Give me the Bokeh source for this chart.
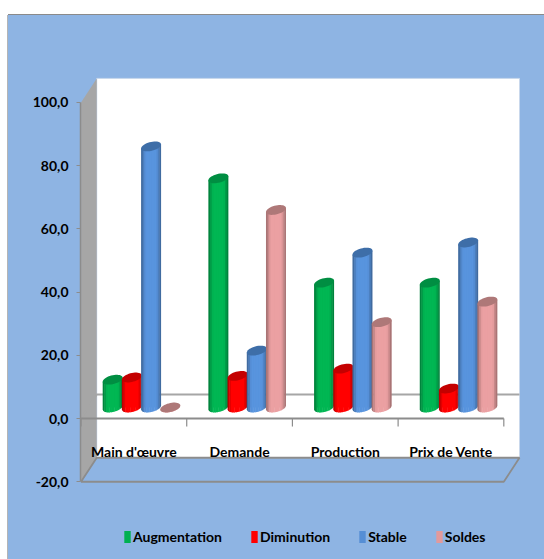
from math import pi, sin, sqrt, cos
from bokeh.plotting import figure
from bokeh.models import FixedTicker, Legend, LegendItem, Range1d
from bokeh.core.properties import value
from bokeh.embed import file_html
from bokeh.resources import INLINE

categories = ["Main d'œuvre", "Demande", "Production", "Prix de Vente"]
augmentation = [8.8, 72.5, 39.5, 39.5]
diminution = [9.5, 10.0, 12.3, 6.0]
stable = [82.6, 18.0, 49.0, 52.2]
soldes = [0.0, 62.5, 27.0, 33.5]
series_names = ["Augmentation", "Diminution", "Stable", "Soldes"]
y_ticks = [-20, 0, 20, 40, 60, 80, 100]
y_tick_labels = ["-20,0", "0,0", "20,0", "40,0", "60,0", "80,0", "100,0"]

series_values = [augmentation, diminution, stable, soldes]
series_rgb = [(0, 176, 80), (255, 0, 0), (85, 142, 213), (226, 154, 156)]
cap_rgb = [(0, 142, 66), (196, 0, 0), (62, 110, 168), (174, 120, 120)]

FONT = "Lato"
FONT_PX = "14px"
BG = "#8EB4E3"
GREY = "#8C8C8C"
PX_X = 105.7   # pixels per category
PX_Y = 3.16    # pixels per value unit
DX, DY = 15.7 / PX_X, 24 / PX_Y  # depth of the 3D box
BASE = 11 / PX_Y                 # bars stand mid-depth
GROUP_C = 0.572
PITCH = 19.2 / PX_X
A, B, TILT = 10.0, 4.5, 0.2      # cylinder ellipse, pixels

p = figure(width=536, height=544, margin=(15, 0, 0, 8), output_backend="svg", toolbar_location=None,
           x_range=Range1d(-0.005, 4.385), y_range=Range1d(-44.6, 127.5),
           min_border_left=72, min_border_right=0, min_border_top=0, min_border_bottom=0,
           background_fill_color=None, border_fill_color=BG, outline_line_color=None,
           x_axis_location=None,
           styles={"background-color": BG, "box-shadow": "0 -1px 0 #8A8A8A, -1px 0 0 #B5B5B5"})
p.grid.visible = False

# y axis
ax = p.yaxis[0]
ax.ticker = FixedTicker(ticks=y_ticks)
ax.major_label_overrides = dict(zip(y_ticks, y_tick_labels))
ax.bounds = (-20, 100)
ax.axis_line_color = GREY
ax.axis_line_width = 1.5
ax.major_tick_line_color = GREY
ax.major_tick_out = 4
ax.major_tick_in = 0
ax.minor_tick_line_color = None
ax.major_label_standoff = 8
ax.major_label_text_font = FONT
ax.major_label_text_font_style = "bold"
ax.major_label_text_font_size = FONT_PX
ax.major_label_text_color = "black"

n = len(categories)
ymin, ymax = y_ticks[0], y_ticks[-1]
# back wall, side wall, floor
p.patch([DX, n + DX, n + DX, DX], [ymin + DY, ymin + DY, ymax + DY, ymax + DY], fill_color="white", line_color="#C9D8EC", line_width=1)
p.patch([0, DX, DX, 0], [ymax, ymax + DY, ymin + DY, ymin], fill_color="#A6A6A6", line_color=None)
p.line([0, DX, n + DX, n, 0, DX], [ymin, ymin + DY, ymin + DY, ymin, ymin, ymin + DY], line_color=GREY, line_width=1.8)
# zero line on the walls
p.line([0, DX, n + DX], [0, DY, DY], line_color="#A6A6A6", line_width=2)
# x axis line and ticks
p.line([0, n], [0, 0], line_color=GREY, line_width=2)
p.segment(list(range(n + 1)), [0] * (n + 1), list(range(n + 1)), [-8 / PX_Y] * (n + 1), line_color=GREY, line_width=1.2)
# category labels
p.text([i + 0.5 for i in range(n)], [-10.5] * n, text=categories, text_align="center", text_baseline="middle",
       text_font=value(FONT), text_font_style="bold", text_font_size=FONT_PX, text_color="black")


def shade(rgb, f):
    return "#%02X%02X%02X" % tuple(min(255, int(round(c * f))) for c in rgb)


def profile(t):
    return 0.68 + 0.36 * min(1.0, sin(pi * t) * 1.5)


items = []
STRIPS = 12
for s, (name, vals) in enumerate(zip(series_names, series_values)):
    xc = [i + GROUP_C + (s - 1.5) * PITCH for i in range(n)]
    # plain body, a little narrower than the shaded strips laid on top
    vb = p.vbar(x=xc, top=[BASE + v for v in vals], bottom=[BASE] * n, width=16 / PX_X,
                fill_color=shade(series_rgb[s], 1.0), line_color=None)
    items.append(LegendItem(label=name, renderers=[vb]))
    xs, ys, cols = [], [], []
    cx, cy = [], []
    for x0, v in zip(xc, vals):
        top = BASE + v
        for k in range(STRIPS):
            d0 = -A + 2 * A * k / STRIPS
            d1 = -A + 2 * A * min(k + 1.25, STRIPS) / STRIPS
            pts = [d0 + (d1 - d0) * j / 4 for j in range(5)]
            px = [x0 + d0 / PX_X, x0 + d1 / PX_X]
            py = [top + TILT * d0 / PX_Y, top + TILT * d1 / PX_Y]
            for d in reversed(pts):
                px.append(x0 + d / PX_X)
                py.append(BASE + (TILT * d - B * sqrt(max(0, 1 - (d / A) ** 2))) / PX_Y)
            xs.append(px)
            ys.append(py)
            cols.append(shade(series_rgb[s], profile((k + 0.5) / STRIPS)))
        ang = [2 * pi * j / 40 for j in range(40)]
        cx.append([x0 + A * cos(a) / PX_X for a in ang])
        cy.append([top + (TILT * A * cos(a) + B * sin(a)) / PX_Y for a in ang])
    p.patches(xs, ys, fill_color=cols, line_color=None)
    p.patches(cx, cy, fill_color=shade(cap_rgb[s], 1.0), line_color=None)

legend = Legend(items=items, orientation="horizontal", location=(43, 14), spacing=28, padding=0, margin=0,
                glyph_width=8, glyph_height=15, label_standoff=2, label_height=15,
                label_text_font=FONT, label_text_font_style="bold", label_text_font_size=FONT_PX,
                label_text_color="black", background_fill_alpha=0, border_line_alpha=0)
p.add_layout(legend, "center")

open("out.html", "w").write(file_html(p, INLINE))
